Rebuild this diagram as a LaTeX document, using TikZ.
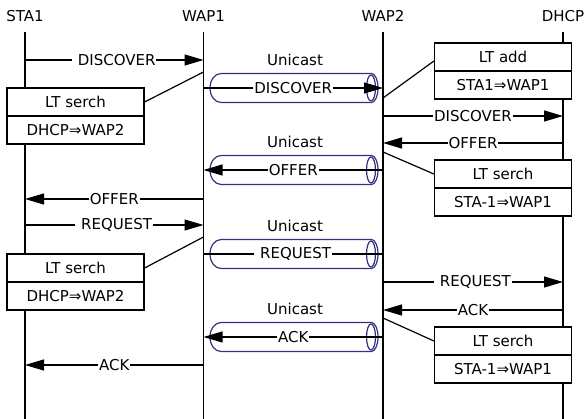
\documentclass[tikz,border=0pt]{standalone}
\usepackage{fontspec}
\setmainfont{DejaVu Sans}
\usetikzlibrary{arrows.meta}
\definecolor{tubeblue}{RGB}{50,50,130}

\begin{document}
\begin{tikzpicture}[x=1pt,y=-1pt,
  font=\fontsize{15}{17}\selectfont,
  life/.style={line width=1.2pt},
  wire/.style={line width=1.2pt},
  msg/.style={line width=1.2pt,-{Triangle[length=19pt,width=11pt]}},
  lbl/.style={fill=white,inner xsep=1pt,inner ysep=2pt},
  tubeline/.style={draw=tubeblue,line width=1.2pt},
  cell/.style={draw,line width=1.2pt,fill=white,minimum width=137pt,
    minimum height=28pt,inner sep=0pt},
]
\useasboundingbox (0,0) rectangle (585,419);

% lifeline heads
\node (sta1) at (25,16) {STA1};
\node (wap1) at (203.5,16) {WAP1};
\node (wap2) at (383,16) {WAP2};
\node (dhcp) at (563,16) {DHCP};

% lifelines
\foreach \n in {sta1,wap1,wap2,dhcp}
  \draw[life] (\n |- 0,32) -- (\n |- 0,419);

% unicast tunnels between the two access points
\foreach \ty in {88,170,254,337}{
  \draw[tubeline] (221,\ty-14.5) -- (371.5,\ty-14.5)
    arc[start angle=90,end angle=-90,x radius=6.5pt,y radius=14.5pt]
    -- (221,\ty+14.5)
    arc[start angle=270,end angle=90,x radius=11pt,y radius=14.5pt];
  \draw[tubeline] (371,\ty) ellipse[x radius=4.5pt,y radius=13pt];
  \node (uc\ty) at (295,\ty-28) {Unicast};
}

% DISCOVER
\draw[msg] (sta1 |- 0,60) -- node[lbl] {\ DISCOVER} (wap1 |- 0,60);
\draw[msg] (wap1 |- 0,88) -- node[lbl] {DISCOVER} (wap2 |- 0,88);
\draw[msg] (wap2 |- 0,116) -- node[lbl] {DISCOVER} (dhcp |- 0,116);

% OFFER
\draw[msg] (dhcp |- 0,143) -- node[lbl] {OFFER} (wap2 |- 0,143);
\draw[msg] (wap2 |- 0,170) -- node[lbl] {OFFER} (wap1 |- 0,170);
\draw[msg] (wap1 |- 0,199) -- node[lbl] {OFFER} (sta1 |- 0,199);

% REQUEST
\draw[msg] (sta1 |- 0,225) -- node[lbl] {\ REQUEST} (wap1 |- 0,225);
\draw[wire] (wap1 |- 0,254) -- node[lbl] {\ REQUEST} (wap2 |- 0,254);
\draw[msg] (wap2 |- 0,282) -- node[lbl] {\ REQUEST} (dhcp |- 0,282);

% ACK
\draw[msg] (dhcp |- 0,310) -- node[lbl] {ACK} (wap2 |- 0,310);
\draw[msg] (wap2 |- 0,337) -- node[lbl] {ACK} (wap1 |- 0,337);
\draw[msg] (wap1 |- 0,365) -- node[lbl] {ACK} (sta1 |- 0,365);

% location table notes
\node[cell] (n1a) at (75.5,102) {LT serch};
\node[cell] (n1b) at (75.5,130) {DHCP⇒WAP2};
\node[cell] (n2a) at (503,57) {LT add};
\node[cell] (n2b) at (503,85) {STA1⇒WAP1};
\node[cell] (n3a) at (503,174) {LT serch};
\node[cell] (n3b) at (503,202) {STA-1⇒WAP1};
\node[cell] (n4a) at (75.5,268) {LT serch};
\node[cell] (n4b) at (75.5,296) {DHCP⇒WAP2};
\node[cell] (n5a) at (503,341) {LT serch};
\node[cell] (n5b) at (503,369) {STA-1⇒WAP1};

% note leaders
\draw[wire] (wap1 |- 0,72) -- (n1a.east);
\draw[wire] (wap2 |- 0,98) -- ([yshift=-4pt]n2a.west);
\draw[wire] (wap2 |- 0,152) -- (n3a.west);
\draw[wire] (wap1 |- 0,237) -- (n4a.east);
\draw[wire] (wap2 |- 0,318) -- (n5a.west);
\end{tikzpicture}
\end{document}
